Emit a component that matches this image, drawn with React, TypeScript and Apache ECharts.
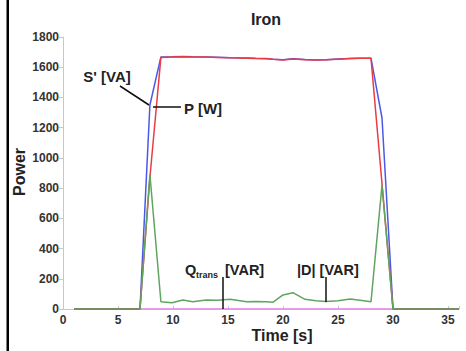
import React, { useEffect, useRef } from "react";
import * as echarts from "echarts";

const times = [1, 2, 3, 4, 5, 6, 7, 7.9, 8.9, 9.9, 10.9, 11.8, 13, 14, 15.2, 16.7, 17.5, 18.5, 19.1, 20, 20.9, 22, 23, 23.9, 25, 26.1, 27, 28, 29, 30, 31, 32, 33, 34, 35, 36];
const pValues = [0, 0, 0, 0, 0, 0, 0, 870, 1665, 1668, 1670, 1668, 1667, 1665, 1662, 1660, 1658, 1656, 1652, 1648, 1655, 1650, 1647, 1649, 1653, 1657, 1659, 1659, 830, 0, 0, 0, 0, 0, 0, 0];
const sValues = [0, 0, 0, 0, 0, 0, 0, 1350, 1668, 1669, 1671, 1669, 1668, 1666, 1663, 1661, 1659, 1657, 1653, 1649, 1656, 1651, 1648, 1650, 1654, 1658, 1660, 1660, 1264, 0, 0, 0, 0, 0, 0, 0];
const qValues = [0, 0, 0, 0, 0, 0, 0, 890, 48, 42, 60, 48, 60, 58, 64, 48, 50, 48, 45, 93, 108, 64, 55, 50, 55, 66, 58, 48, 820, 0, 0, 0, 0, 0, 0, 0];
const dValues = [0, 0, 0, 0, 0, 0, 0, 0, 0, 0, 0, 0, 0, 0, 0, 0, 0, 0, 0, 0, 0, 0, 0, 0, 0, 0, 0, 0, 0, 0, 0, 0, 0, 0, 0, 0];
const yTicks = [0, 200, 400, 600, 800, 1000, 1200, 1400, 1600, 1800];
const xTicks = [0, 5, 10, 15, 20, 25, 30, 35];

const FONT = "'Liberation Sans', Arial, Helvetica, sans-serif";

function pairs(vals: number[]) {
  return times.map((t, i) => [t, vals[i]]);
}

export default function App() {
  const ref = useRef<HTMLDivElement>(null);
  useEffect(() => {
    document.body.style.margin = "0";
    const chart = echarts.init(ref.current!, undefined, { renderer: "svg" });
    const txt = (text: string, x: number, y: number, size: number, align = "left", extra: any = {}) => ({
      type: "text",
      x,
      y,
      ...extra,
      style: {
        text,
        fontFamily: FONT,
        fontWeight: "bold",
        fontSize: size,
        fill: "#222",
        textAlign: align,
        textVerticalAlign: "middle",
      },
      z: 100,
    });
    const ln = (x1: number, y1: number, x2: number, y2: number) => ({
      type: "line",
      shape: { x1, y1, x2, y2 },
      style: { stroke: "#111", lineWidth: 1.5 },
      z: 100,
    });
    chart.setOption({
      animation: false,
      backgroundColor: "#fff",
      grid: { left: 63, right: 7, top: 37, bottom: 42, containLabel: false },
      xAxis: {
        type: "value",
        min: 0,
        max: 36,
        interval: 5,
        axisLine: { show: true, lineStyle: { color: "#c8c8c8", width: 1 } },
        axisTick: { show: true, inside: true, length: 3, lineStyle: { color: "#c8c8c8" } },
        splitLine: { show: false },
        axisLabel: {
          color: "#333",
          fontFamily: FONT,
          fontWeight: "bold",
          fontSize: 12,
          margin: 5,
          formatter: (v: number) => (xTicks.includes(v) ? String(v) : ""),
        },
      },
      yAxis: {
        type: "value",
        min: 0,
        max: 1800,
        interval: 200,
        axisLine: { show: true, lineStyle: { color: "#c8c8c8", width: 1 } },
        axisTick: { show: true, length: 4, lineStyle: { color: "#c8c8c8" } },
        splitLine: { show: false },
        axisLabel: {
          color: "#333",
          fontFamily: FONT,
          fontWeight: "bold",
          fontSize: 12,
          margin: 4,
          formatter: (v: number) => (yTicks.includes(v) ? String(v) : ""),
        },
      },
      series: [
        { name: "|D| [VAR]", type: "line", data: pairs(dValues), showSymbol: false, lineStyle: { color: "#e57fe3", width: 1.5 }, z: 1 },
        { name: "S' [VA]", type: "line", data: pairs(sValues), showSymbol: false, lineStyle: { color: "#4a58e6", width: 1.5 }, z: 2 },
        { name: "P [W]", type: "line", data: pairs(pValues), showSymbol: false, lineStyle: { color: "#ec3b44", width: 1.5 }, z: 3 },
        { name: "Qtrans [VAR]", type: "line", data: pairs(qValues), showSymbol: false, lineStyle: { color: "#5fa55f", width: 1.5 }, z: 4 },
      ],
      graphic: [
        { type: "rect", shape: { x: 6.5, y: 0, width: 2.5, height: 351 }, style: { fill: "#000" }, z: 100 },
        txt("Iron", 266, 19, 16, "center"),
        txt("Power", 19, 172, 16, "center", { rotation: Math.PI / 2 }),
        txt("Time [s]", 282, 335, 16, "center"),
        txt("S' [VA]", 107, 76, 15, "center"),
        ln(120, 86, 149, 105),
        txt("P [W]", 184, 108, 15, "left"),
        ln(153, 107, 181, 107),
        txt("Q", 185, 270, 14.5, "left"),
        txt("trans", 196, 275, 9, "left"),
        txt("[VAR]", 225, 270, 14.5, "left"),
        ln(223, 277, 223, 309),
        txt("|D| [VAR]", 297, 270, 14.5, "left"),
        ln(326, 277, 326, 302),
      ],
    });
    return () => chart.dispose();
  }, []);
  return <div ref={ref} style={{ position: "absolute", left: 0, top: 0, width: 466, height: 351 }} />;
}
